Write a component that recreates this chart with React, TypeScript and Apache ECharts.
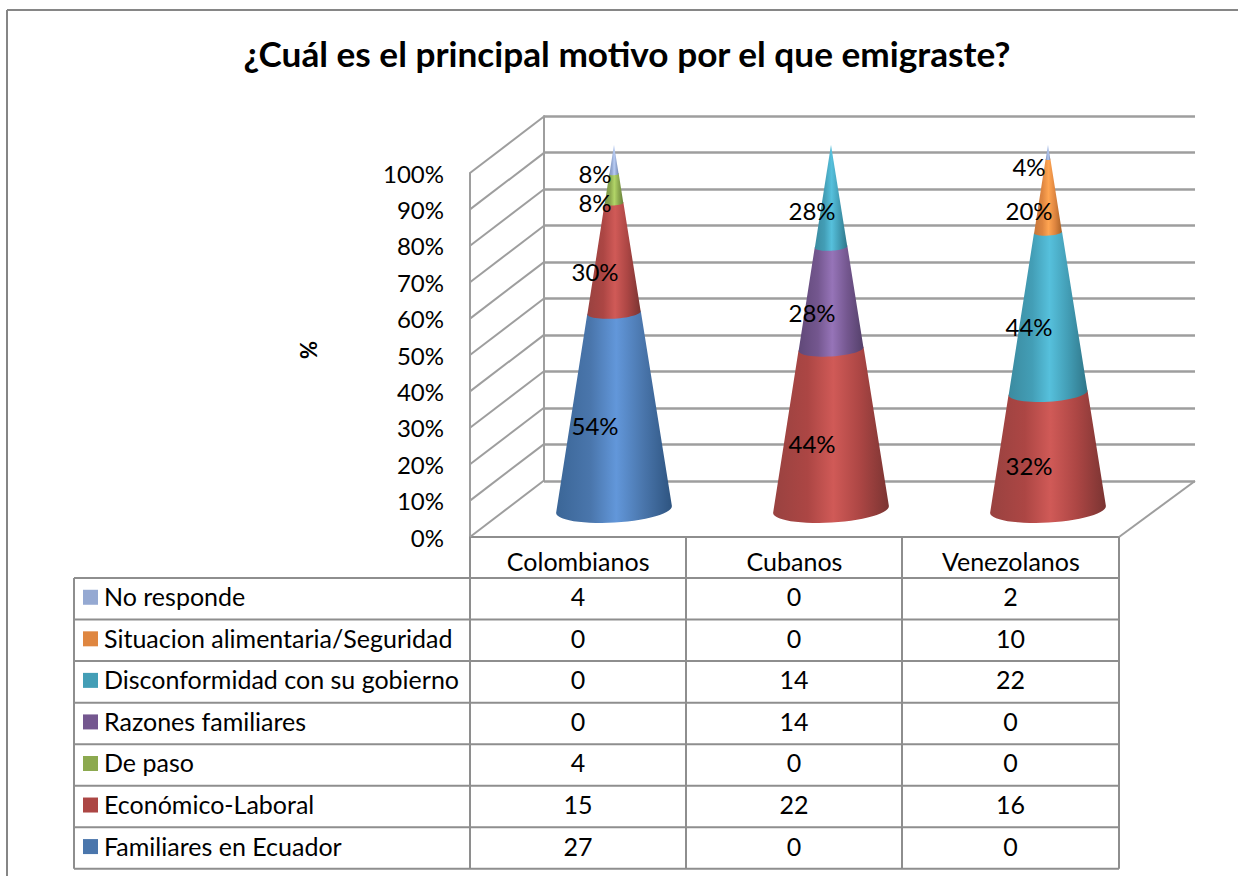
import React, { useEffect, useRef } from "react";
import * as echarts from "echarts";

const categories = ["Colombianos", "Cubanos", "Venezolanos"];
const seriesNames = [
  "Familiares en Ecuador",
  "Económico-Laboral",
  "De paso",
  "Razones familiares",
  "Disconformidad con su gobierno",
  "Situacion alimentaria/Seguridad",
  "No responde",
];
const familiares = [27, 0, 0];
const economico = [15, 22, 16];
const dePaso = [4, 0, 0];
const razones = [0, 14, 0];
const disconformidad = [0, 14, 22];
const situacion = [0, 0, 10];
const noResponde = [4, 0, 2];
const seriesValues = [familiares, economico, dePaso, razones, disconformidad, situacion, noResponde];

const keyColors = ["#4A76AC", "#AC4644", "#8CA94F", "#74578F", "#439EB6", "#DF8640", "#95A9D2"];
const lightColors = ["#6297DA", "#D05A57", "#B2D568", "#9674B8", "#56C0DC", "#FFA552", "#B9CDF5"];
const leftColors = ["#3B6697", "#994240", "#7B9544", "#604878", "#3B8BA0", "#C6763A", "#8296C0"];
const darkColors = ["#2E5480", "#7A3432", "#67803A", "#54406A", "#2F7689", "#AA6228", "#7288B4"];

const FONT = "Lato, Carlito, Calibri, 'Open Sans', sans-serif";
const TICKS = [0, 10, 20, 30, 40, 50, 60, 70, 80, 90, 100];
const LINE = "#8E8E8E";
const WALL = "#9E9E9E";

const totals = categories.map((_, i) => seriesValues.reduce((s, arr) => s + arr[i], 0));

const TILT = (-3.4 * Math.PI) / 180;
const RATIO = 0.225;
const ARC_STEPS = 28;

// Point on the front half of a tilted ellipse; t runs 0 (left end) .. 1 (right end).
function frontPoint(cx: number, cy: number, r: number, t: number) {
  const a = Math.PI * (1 - t);
  const ex = r * Math.cos(a);
  const ey = r * RATIO * Math.sin(a);
  return [cx + ex * Math.cos(TILT) - ey * Math.sin(TILT), cy + ex * Math.sin(TILT) + ey * Math.cos(TILT)];
}

function segmentPath(cx: number, yA: number, yB: number, rA: number, rB: number) {
  const pts: number[][] = [];
  for (let k = 0; k <= ARC_STEPS; k++) pts.push(frontPoint(cx, yB, rB, k / ARC_STEPS));
  for (let k = ARC_STEPS; k >= 0; k--) pts.push(frontPoint(cx, yA, rA, k / ARC_STEPS));
  return "M " + pts.map((p) => `${p[0].toFixed(2)} ${p[1].toFixed(2)}`).join(" L ") + " Z";
}

function buildCone(seriesIdx: number) {
  return categories.map((_, i) => {
    let before = 0;
    for (let s = 0; s < seriesIdx; s++) before += seriesValues[s][i];
    const v = seriesValues[seriesIdx][i];
    return [i, (before / totals[i]) * 100, ((before + v) / totals[i]) * 100, v];
  });
}

export default function App() {
  const ref = useRef<HTMLDivElement>(null);
  useEffect(() => {
    if (!ref.current) return;
    const chart = echarts.init(ref.current, undefined, { renderer: "svg" });

    const coneSeries = seriesNames.map((name, sIdx) => ({
      type: "custom",
      name,
      xAxisIndex: 2,
      yAxisIndex: 2,
      z: 5 + sIdx,
      data: buildCone(sIdx),
      renderItem: (_p: any, api: any) => {
        const cat = api.value(0);
        const start = api.value(1);
        const end = api.value(2);
        const val = api.value(3);
        if (!val) return { type: "group", children: [] };
        const [cx, yA] = api.coord([cat, start]);
        const [, yB] = api.coord([cat, end]);
        const base = 58;
        const rA = base * (1 - start / 100);
        const rB = base * (1 - end / 100);
        // the top edge runs under the next slice by a pixel so no seam shows
        const seam = end < 99.9 ? 1 : 0;
        return {
          type: "group",
          children: [
            {
              type: "path",
              shape: { pathData: segmentPath(cx, yA, yB - seam, rA, rB) },
              style: {
                fill: new echarts.graphic.LinearGradient(0, 0, 1, 0, [
                  { offset: 0, color: leftColors[sIdx] },
                  { offset: 0.3, color: keyColors[sIdx] },
                  { offset: 0.52, color: lightColors[sIdx] },
                  { offset: 0.75, color: keyColors[sIdx] },
                  { offset: 1, color: darkColors[sIdx] },
                ]),
              },
            },
          ],
        };
      },
    }));

    const labelSeries = seriesNames.map((name, sIdx) => ({
      type: "custom",
      name,
      xAxisIndex: 2,
      yAxisIndex: 2,
      z: 20,
      silent: true,
      data: buildCone(sIdx),
      renderItem: (_p: any, api: any) => {
        const cat = api.value(0);
        const val = api.value(3);
        if (!val) return { type: "group", children: [] };
        const [cx, yMid] = api.coord([cat, (api.value(1) + api.value(2)) / 2]);
        return {
          type: "text",
          x: cx - 19,
          y: yMid + 14,
          style: {
            text: `${Math.round((val / totals[cat]) * 100)}%`,
            fill: "#000",
            fontFamily: FONT,
            fontSize: 24,
            align: "center",
            verticalAlign: "middle",
          },
        };
      },
    }));

    const wallSeries = {
      type: "custom",
      xAxisIndex: 0,
      yAxisIndex: 0,
      z: 1,
      silent: true,
      data: TICKS.map((t) => [0, t]),
      renderItem: (p: any, api: any) => {
        const y = api.coord([0, api.value(1)])[1];
        const x = p.coordSys.x;
        return {
          type: "line",
          shape: { x1: x, y1: y, x2: x + 74, y2: y - 56.5 },
          style: { stroke: WALL, lineWidth: 2 },
        };
      },
    };

    // Data table below the plot
    const tableLeft = 74;
    const colX = [470, 686, 902, 1119];
    const rowTop = 578;
    const rowH = 41.55;
    const rowNames = [...seriesNames].reverse();
    const rowValues = [...seriesValues].reverse();
    const rowColors = [...keyColors].reverse();
    const lineEl = (x1: number, y1: number, x2: number, y2: number) => ({
      type: "line",
      shape: { x1, y1, x2, y2 },
      style: { stroke: LINE, lineWidth: 2 },
      z: 3,
    });
    const tableEls: any[] = [];
    for (let r = 0; r <= rowNames.length; r++) {
      const y = rowTop + r * rowH;
      tableEls.push(lineEl(tableLeft, y, colX[3], y));
    }
    tableEls.push(lineEl(tableLeft, rowTop, tableLeft, rowTop + rowNames.length * rowH));
    colX.forEach((x) => tableEls.push(lineEl(x, 537, x, rowTop + rowNames.length * rowH)));
    rowNames.forEach((name, r) => {
      const yc = rowTop + (r + 0.5) * rowH;
      tableEls.push({
        type: "rect",
        shape: { x: 83, y: yc - 9, width: 15, height: 15 },
        style: { fill: rowColors[r] },
        z: 4,
      });
      tableEls.push({
        type: "text",
        x: 104,
        y: yc - 2.5,
        z: 4,
        style: { text: name, fill: "#000", fontFamily: FONT, fontSize: 25, align: "left", verticalAlign: "middle" },
      });
      rowValues[r].forEach((v, c) => {
        tableEls.push({
          type: "text",
          x: (colX[c] + colX[c + 1]) / 2,
          y: yc - 2.5,
          z: 4,
          style: { text: String(v), fill: "#000", fontFamily: FONT, fontSize: 25, align: "center", verticalAlign: "middle" },
        });
      });
    });

    const frameEls = [
      { type: "line", shape: { x1: 7, y1: 10, x2: 1238, y2: 10 }, style: { stroke: "#868686", lineWidth: 2 }, z: 3 },
      { type: "line", shape: { x1: 7, y1: 10, x2: 7, y2: 876 }, style: { stroke: "#868686", lineWidth: 2 }, z: 3 },
      { type: "line", shape: { x1: 1119, y1: 537, x2: 1195, y2: 481 }, style: { stroke: WALL, lineWidth: 2 }, z: 3 },
    ];

    chart.setOption({
      animation: false,
      backgroundColor: "#fff",
      title: {
        text: "¿Cuál es el principal motivo por el que emigraste?",
        left: 622,
        top: 30,
        textAlign: "center",
        textStyle: { fontFamily: FONT, fontSize: 35.2, fontWeight: "bold", color: "#000" },
      },
      grid: [
        { left: 470, top: 173, width: 649, height: 364, containLabel: false },
        { left: 544, top: 116, width: 651, height: 365, containLabel: false },
        { left: 505.5, top: 145, width: 651, height: 364.5, containLabel: false },
      ],
      xAxis: [
        {
          gridIndex: 0,
          type: "category",
          data: categories,
          axisLine: { show: true, lineStyle: { color: LINE, width: 2 } },
          axisTick: { show: false },
          axisLabel: { color: "#000", fontFamily: FONT, fontSize: 25, margin: 11 },
        },
        { gridIndex: 1, type: "category", data: categories, show: false },
        { gridIndex: 2, type: "category", data: categories, show: false },
      ],
      yAxis: [
        {
          gridIndex: 0,
          type: "value",
          min: 0,
          max: 100,
          interval: 10,
          name: "%",
          nameLocation: "middle",
          nameGap: 151,
          nameRotate: 90,
          nameTextStyle: { color: "#000", fontFamily: FONT, fontSize: 22, fontWeight: "bold", padding: [0, 0, 0, 10] },
          axisLine: { show: true, lineStyle: { color: WALL, width: 2 } },
          axisTick: { show: false },
          splitLine: { show: false },
          axisLabel: { color: "#000", fontFamily: FONT, fontSize: 24, formatter: "{value}%", margin: 26 },
        },
        {
          gridIndex: 1,
          type: "value",
          min: 0,
          max: 100,
          interval: 10,
          axisLine: { show: true, lineStyle: { color: WALL, width: 2 } },
          axisTick: { show: false },
          axisLabel: { show: false },
          splitLine: { show: true, lineStyle: { color: WALL, width: 2.5 } },
        },
        { gridIndex: 2, type: "value", min: 0, max: 100, show: false },
      ],
      series: [wallSeries, ...coneSeries, ...labelSeries],
      graphic: { elements: [...frameEls, ...tableEls] },
    });
    return () => chart.dispose();
  }, []);
  return <div ref={ref} style={{ position: "fixed", left: 0, top: 0, width: 1238, height: 876 }} />;
}
